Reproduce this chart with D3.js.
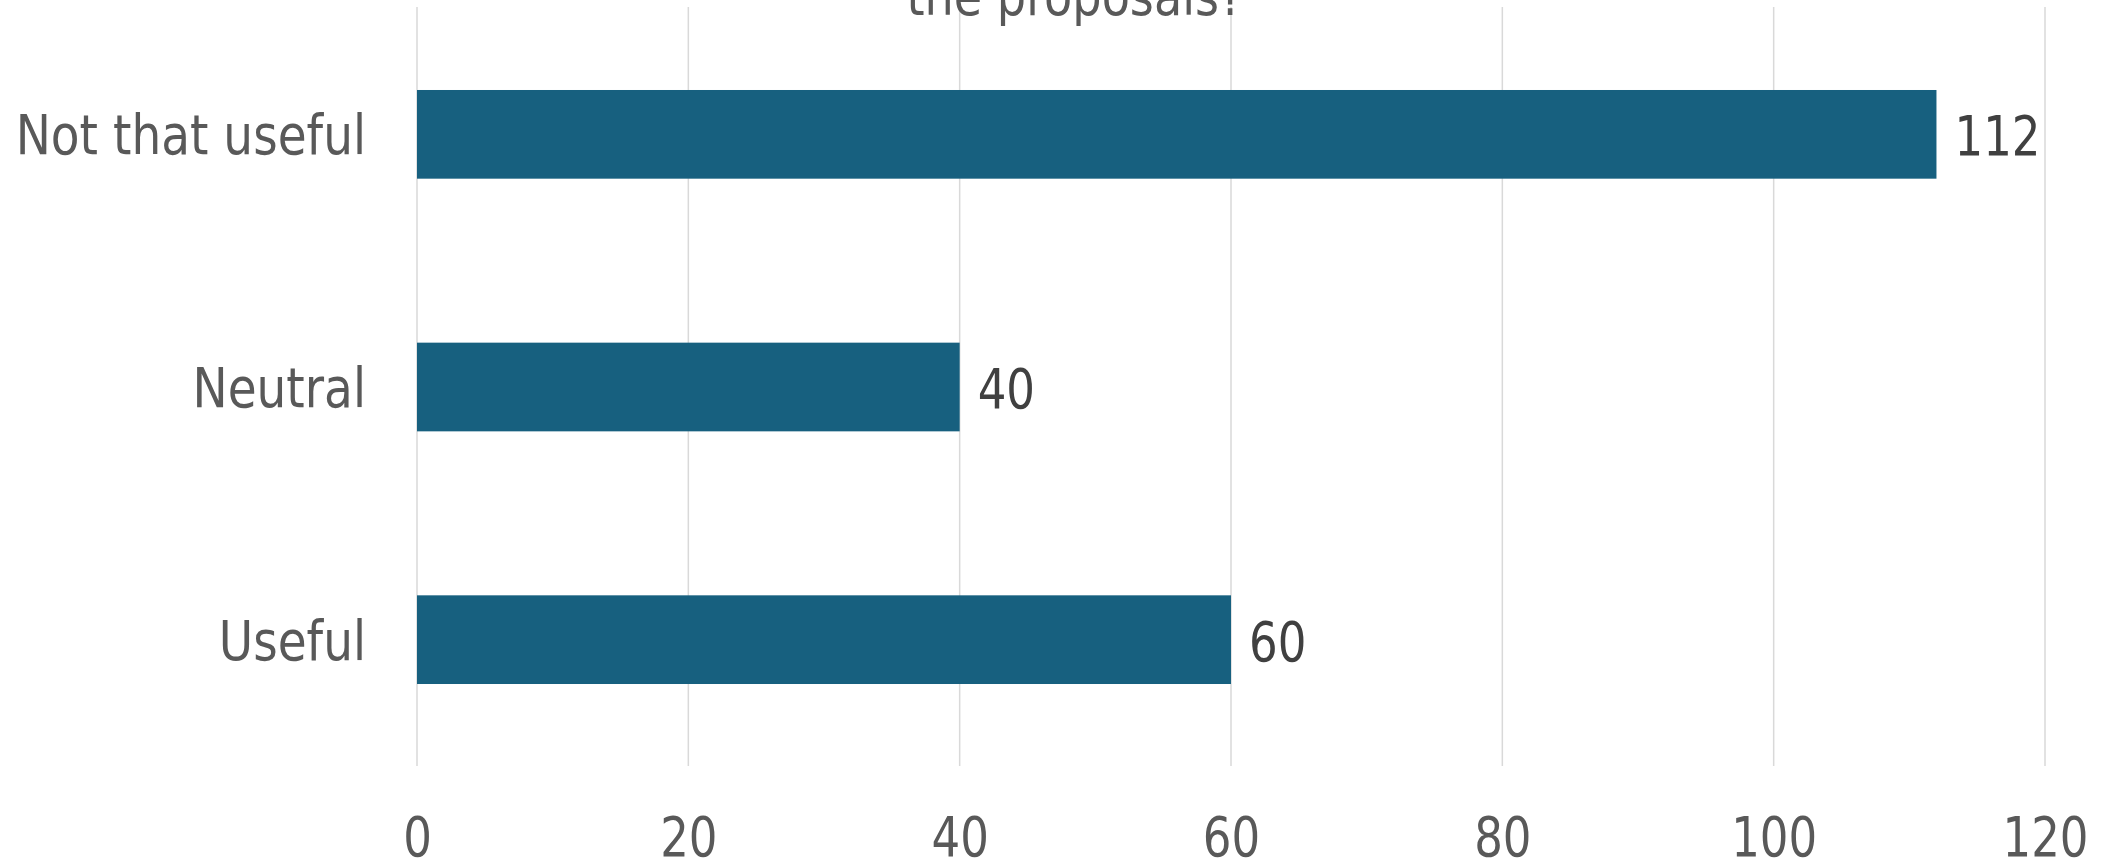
<!DOCTYPE html>
<html><head><meta charset="utf-8">
<script src="https://cdn.jsdelivr.net/npm/d3@7"></script>
<style>html,body{margin:0;padding:0;background:#fff;overflow:hidden}</style>
</head><body>
<script>
const categories = ["Not that useful", "Neutral", "Useful"];
const values = [112, 40, 60];
const xTicks = [0, 20, 40, 60, 80, 100, 120];
const titleLine = "the proposals?";

const W = 2108, H = 862;
const svg = d3.select("body").append("svg").attr("width", W).attr("height", H);
const font = "DejaVu Sans";
const sx = 0.855, sxNum = 0.82;

const x = d3.scaleLinear().domain([0, 120]).range([417, 2045]);
const y = d3.scaleBand().domain(categories).range([8, 766]).paddingInner(0.649).paddingOuter(0.3245);

// gridlines
svg.append("g").selectAll("line").data(xTicks).join("line")
  .attr("x1", d => x(d)).attr("x2", d => x(d))
  .attr("y1", 7).attr("y2", 766)
  .attr("stroke", "#d9d9d9").attr("stroke-width", 1.5);

// title (partially cut off at the top, as in the reference)
svg.append("text").attr("transform", `translate(1075,15) scale(${sx},1)`)
  .attr("text-anchor", "middle").attr("font-family", font).attr("font-size", 54)
  .attr("fill", "#595959").text(titleLine);

// bars
svg.append("g").selectAll("rect").data(categories).join("rect")
  .attr("x", x(0)).attr("y", d => y(d))
  .attr("width", (d, i) => x(values[i]) - x(0))
  .attr("height", y.bandwidth())
  .attr("fill", "#17607f");

// category labels
svg.append("g").selectAll("text").data(categories).join("text")
  .attr("transform", d => `translate(366,${y(d) + y.bandwidth() / 2 + 20}) scale(${sx},1)`)
  .attr("text-anchor", "end").attr("font-family", font).attr("font-size", 55)
  .attr("fill", "#595959").text(d => d);

// value labels
svg.append("g").selectAll("text").data(categories).join("text")
  .attr("transform", (d, i) => `translate(${x(values[i]) + 18},${y(d) + y.bandwidth() / 2 + 21}) scale(${sxNum},1)`)
  .attr("text-anchor", "start").attr("font-family", font).attr("font-size", 55)
  .attr("fill", "#404040").text((d, i) => values[i]);

// x axis tick labels
const xAxis = d3.axisBottom(x).tickValues(xTicks).tickSize(0).tickPadding(0);
const gx = svg.append("g").attr("transform", "translate(0,856)").call(xAxis);
gx.select(".domain").remove();
gx.selectAll("text")
  .attr("dy", 0).attr("y", 0)
  .attr("transform", `scale(${sxNum},1)`)
  .attr("font-family", font).attr("font-size", 55).attr("fill", "#595959");
</script>
</body></html>
